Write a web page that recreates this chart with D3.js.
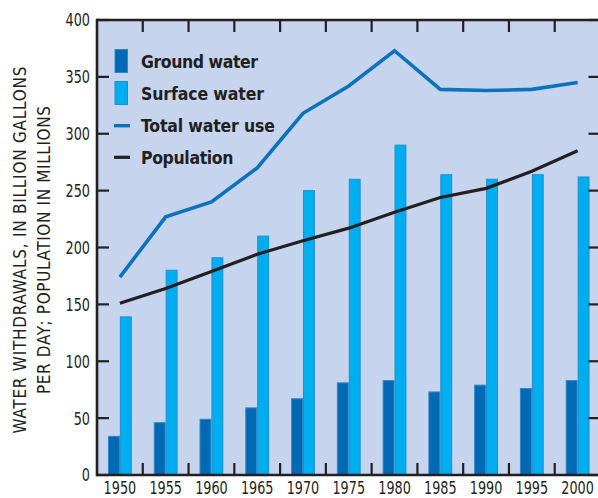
<!DOCTYPE html>
<html>
<head>
<meta charset="utf-8">
<script src="https://cdn.jsdelivr.net/npm/d3@7"></script>
<style>
  html, body { margin: 0; padding: 0; background: #ffffff; }
  svg { display: block; }
  .narrow { font-family: "Liberation Sans Narrow", "Arial Narrow", "DejaVu Sans Condensed", sans-serif; }
</style>
</head>
<body>
<svg id="chart" width="598" height="498"></svg>
<script>
// ---- data ----
const years = ["1950","1955","1960","1965","1970","1975","1980","1985","1990","1995","2000"];
const groundWater  = [34, 46, 49, 59, 67, 81, 83, 73, 79, 76, 83];
const surfaceWater = [139, 180, 191, 210, 250, 260, 290, 264, 260, 264, 262];
const totalWater   = [174, 227, 240, 270, 318, 342, 373, 339, 338, 339, 345];
const population   = [151, 164, 179, 194, 206, 217, 231, 244, 252, 267, 285];
const yTicks = [0, 50, 100, 150, 200, 250, 300, 350, 400];
const legendLabels = ["Ground water", "Surface water", "Total water use", "Population"];
const yTitle = ["WATER WITHDRAWALS, IN BILLION GALLONS", "PER DAY; POPULATION IN MILLIONS"];

// ---- styles ----
const C = {
  bg: "#c6d4ee",
  ground: "#0069b4",
  groundEdge: "#2f86c6",
  surface: "#00aeef",
  surfaceEdge: "#1a8fd3",
  total: "#0b72bb",
  pop: "#231f20",
  ink: "#231f20"
};

const svg = d3.select("#chart");
const pL = 97, pR = 600.5, pT = 20, pB = 475;

const x = d3.scaleBand().domain(years).range([pL, pR]).padding(0);
const y = d3.scaleLinear().domain([0, 400]).range([pB, pT]);
const bw = x.bandwidth() * 0.26;
const cx = d => x(d) + x.bandwidth() / 2;
const sx = 0.79; // horizontal squeeze for condensed tick numerals

// plot background
svg.append("rect").attr("x", pL).attr("y", pT)
  .attr("width", pR - pL).attr("height", pB - pT).attr("fill", C.bg);

// bars
svg.append("g").selectAll("rect").data(years).join("rect")
  .attr("x", d => cx(d) - bw + 0.5)
  .attr("y", (d, i) => y(groundWater[i]))
  .attr("width", bw - 1)
  .attr("height", (d, i) => pB - y(groundWater[i]))
  .attr("fill", C.ground).attr("stroke", C.groundEdge).attr("stroke-width", 1);

svg.append("g").selectAll("rect").data(years).join("rect")
  .attr("x", d => cx(d) + 0.5)
  .attr("y", (d, i) => y(surfaceWater[i]))
  .attr("width", bw - 1)
  .attr("height", (d, i) => pB - y(surfaceWater[i]))
  .attr("fill", C.surface).attr("stroke", C.surfaceEdge).attr("stroke-width", 1);

// lines
const line = d3.line().x((d, i) => cx(years[i])).y(d => y(d));
svg.append("path").datum(totalWater).attr("d", line)
  .attr("fill", "none").attr("stroke", C.total).attr("stroke-width", 3.6);
svg.append("path").datum(population).attr("d", line)
  .attr("fill", "none").attr("stroke", C.pop).attr("stroke-width", 3.2);

// frame lines
const frame = svg.append("g").attr("stroke", C.ink).attr("fill", "none");
frame.append("line").attr("x1", pL).attr("x2", pL).attr("y1", pT - 1.2).attr("y2", pB + 1.2).attr("stroke-width", 2.6);
frame.append("line").attr("x1", pL).attr("x2", pR + 5).attr("y1", pT).attr("y2", pT).attr("stroke-width", 2.4);
frame.append("line").attr("x1", pL).attr("x2", pR + 5).attr("y1", pB).attr("y2", pB).attr("stroke-width", 2.4);
frame.append("line").attr("x1", pR).attr("x2", pR).attr("y1", pT).attr("y2", pB).attr("stroke-width", 2.4);

// y ticks (inward both sides)
frame.selectAll(".lt").data(yTicks).join("line")
  .attr("x1", pL).attr("x2", pL + 12).attr("y1", d => y(d)).attr("y2", d => y(d)).attr("stroke-width", 2.2);
frame.selectAll(".rt").data(yTicks).join("line")
  .attr("x1", pR - 12).attr("x2", pR).attr("y1", d => y(d)).attr("y2", d => y(d)).attr("stroke-width", 2.2);

// x separator ticks (top and bottom, inward)
const seps = years.slice(1);
frame.selectAll(".bt").data(seps).join("line")
  .attr("x1", d => x(d)).attr("x2", d => x(d)).attr("y1", pB).attr("y2", pB - 12).attr("stroke-width", 2.2);
frame.selectAll(".tt").data(seps).join("line")
  .attr("x1", d => x(d)).attr("x2", d => x(d)).attr("y1", pT).attr("y2", pT + 12).attr("stroke-width", 2.2);

// y tick labels
svg.append("g").attr("class", "narrow").selectAll("text").data(yTicks).join("text")
  .attr("transform", d => `translate(90,${y(d)}) scale(${sx},1)`)
  .attr("dy", "0.36em")
  .attr("text-anchor", "end").attr("font-size", 18).attr("fill", C.ink)
  .text(d => d);

// x tick labels
svg.append("g").attr("class", "narrow").selectAll("text").data(years).join("text")
  .attr("transform", d => `translate(${cx(d)},494) scale(${sx},1)`)
  .attr("text-anchor", "middle").attr("font-size", 18).attr("fill", C.ink)
  .text(d => d);

// y-axis title
const titleX = [25.5, 50];
const titleLen = [367, 288];
yTitle.forEach((t, i) => {
  svg.append("text").attr("class", "narrow")
    .attr("transform", `translate(${titleX[i]},250) rotate(-90)`)
    .attr("text-anchor", "middle").attr("font-size", 17).attr("fill", C.ink)
    .attr("textLength", titleLen[i]).attr("lengthAdjust", "spacing")
    .text(t);
});

// legend
const lg = svg.append("g");
const swX = 115, txtX = 141;
lg.append("rect").attr("x", swX).attr("y", 49.5).attr("width", 12.5).attr("height", 23)
  .attr("fill", C.ground).attr("stroke", C.groundEdge).attr("stroke-width", 1);
lg.append("rect").attr("x", swX).attr("y", 81.5).attr("width", 12.5).attr("height", 23)
  .attr("fill", C.surface).attr("stroke", C.surfaceEdge).attr("stroke-width", 1);
lg.append("line").attr("x1", 114).attr("x2", 130).attr("y1", 125.7).attr("y2", 125.7)
  .attr("stroke", C.total).attr("stroke-width", 3.4);
lg.append("line").attr("x1", 114).attr("x2", 130).attr("y1", 157.3).attr("y2", 157.3)
  .attr("stroke", C.pop).attr("stroke-width", 3.2);
const lgY = [67.5, 99.5, 131.7, 163.5];
const lgLen = [117, 123, 134, 92.5];
legendLabels.forEach((t, i) => {
  lg.append("text").attr("class", "narrow")
    .attr("x", txtX).attr("y", lgY[i])
    .attr("font-size", 17.5).attr("font-weight", "bold").attr("fill", C.ink)
    .attr("textLength", lgLen[i]).attr("lengthAdjust", "spacing")
    .text(t);
});
</script>
</body>
</html>
